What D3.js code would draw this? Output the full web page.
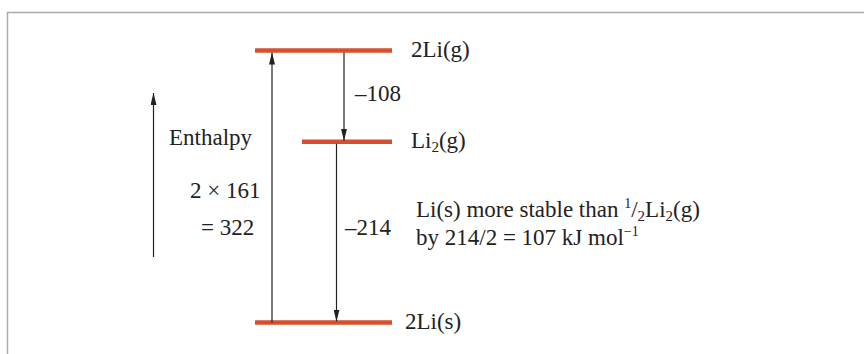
<!DOCTYPE html>
<meta charset="utf-8">
<script src="https://d3js.org/d3.v7.min.js"></script>
<style>
  body { margin: 0; background: #fff; }
  text { font-family: "Liberation Serif", "Times New Roman", serif; font-size: 23px; fill: #222; }
</style>
<div id="chart"></div>
<script>
// enthalpy levels (kJ mol-1, relative to 2Li(s))
var levelNames = ["2Li(s)", "Li2(g)", "2Li(g)"];
var levelValues = [0, 214, 322];

// steps between levels
var stepFrom = [0, 322, 214];
var stepTo = [322, 214, 0];
var stepLabels = [["2 \u00d7 161", "= 322"], ["\u2013108"], ["\u2013214"]];

var width = 864, height = 354;
var levelColor = "#d4502e";

var svg = d3.select("#chart").append("svg")
    .attr("width", width)
    .attr("height", height);

var defs = svg.append("defs");
defs.append("marker")
    .attr("id", "head")
    .attr("viewBox", "0 0 10 10")
    .attr("preserveAspectRatio", "none")
    .attr("refX", 10).attr("refY", 5)
    .attr("markerWidth", 12).attr("markerHeight", 6)
    .attr("markerUnits", "userSpaceOnUse")
    .attr("orient", "auto")
  .append("path")
    .attr("d", "M0,0 L10,5 L0,10 Z")
    .attr("fill", "#222");

// frame (only top and left edges are visible in the crop)
svg.append("path")
    .attr("d", "M7.5," + height + " V12.5 H" + width)
    .attr("fill", "none")
    .attr("stroke", "#aaa")
    .attr("stroke-width", 1.5);

var y = d3.scaleLinear().domain([0, 322]).range([322.5, 50.5]);

// level bars
var barLeft = [255, 302, 255];
var barRight = 392;
svg.selectAll(".level")
  .data(levelValues)
  .enter().append("line")
    .attr("class", "level")
    .attr("x1", function(d, i) { return barLeft[i]; })
    .attr("x2", barRight)
    .attr("y1", function(d) { return y(d); })
    .attr("y2", function(d) { return y(d); })
    .attr("stroke", levelColor)
    .attr("stroke-width", 4.5);

// level labels
var labelX = [405, 411, 411];
var labels = svg.selectAll(".lab")
  .data(levelNames)
  .enter().append("text")
    .attr("class", "lab")
    .attr("x", function(d, i) { return labelX[i]; })
    .attr("y", function(d, i) { return y(levelValues[i]) + 6; });
labels.each(function(d) {
  var t = d3.select(this);
  if (d === "Li2(g)") {
    t.append("tspan").text("Li");
    t.append("tspan").attr("font-size", "15px").attr("dy", 4).text("2");
    t.append("tspan").attr("dy", -4).text("(g)");
  } else {
    t.text(d);
  }
});

// step arrows
var arrowX = [272, 344, 336.5];
svg.selectAll(".step")
  .data(stepFrom)
  .enter().append("line")
    .attr("class", "step")
    .attr("x1", function(d, i) { return arrowX[i]; })
    .attr("x2", function(d, i) { return arrowX[i]; })
    .attr("y1", function(d) { return y(d) + (d === 0 ? 0 : 2); })
    .attr("y2", function(d, i) { return y(stepTo[i]) + (stepTo[i] > d ? 2 : -1); })
    .attr("stroke", "#222")
    .attr("stroke-width", 1.2)
    .attr("marker-end", "url(#head)");

// step labels
svg.append("text").attr("x", 190).attr("y", 198).text(stepLabels[0][0]);
svg.append("text").attr("x", 201).attr("y", 235).text(stepLabels[0][1]);
svg.append("text").attr("x", 355).attr("y", 101).text(stepLabels[1][0]);
svg.append("text").attr("x", 345).attr("y", 235).text(stepLabels[2][0]);

// enthalpy axis arrow
svg.append("line")
    .attr("x1", 153.5).attr("x2", 153.5)
    .attr("y1", 257).attr("y2", 93)
    .attr("stroke", "#222")
    .attr("stroke-width", 1.2)
    .attr("marker-end", "url(#head)");
svg.append("text").attr("x", 169).attr("y", 145).text("Enthalpy");

// note
var note1 = svg.append("text").attr("x", 416).attr("y", 217);
note1.append("tspan").text("Li(s) more stable than ");
note1.append("tspan").attr("font-size", "14px").attr("dy", -9).text("1");
note1.append("tspan").attr("dy", 9).text("/");
note1.append("tspan").attr("font-size", "15px").attr("dy", 4).text("2");
note1.append("tspan").attr("dy", -4).text("Li");
note1.append("tspan").attr("font-size", "15px").attr("dy", 4).text("2");
note1.append("tspan").attr("dy", -4).text("(g)");

var note2 = svg.append("text").attr("x", 416).attr("y", 245);
note2.append("tspan").text("by 214/2 = 107 kJ mol");
note2.append("tspan").attr("font-size", "14px").attr("dy", -9).text("\u22121");
</script>
